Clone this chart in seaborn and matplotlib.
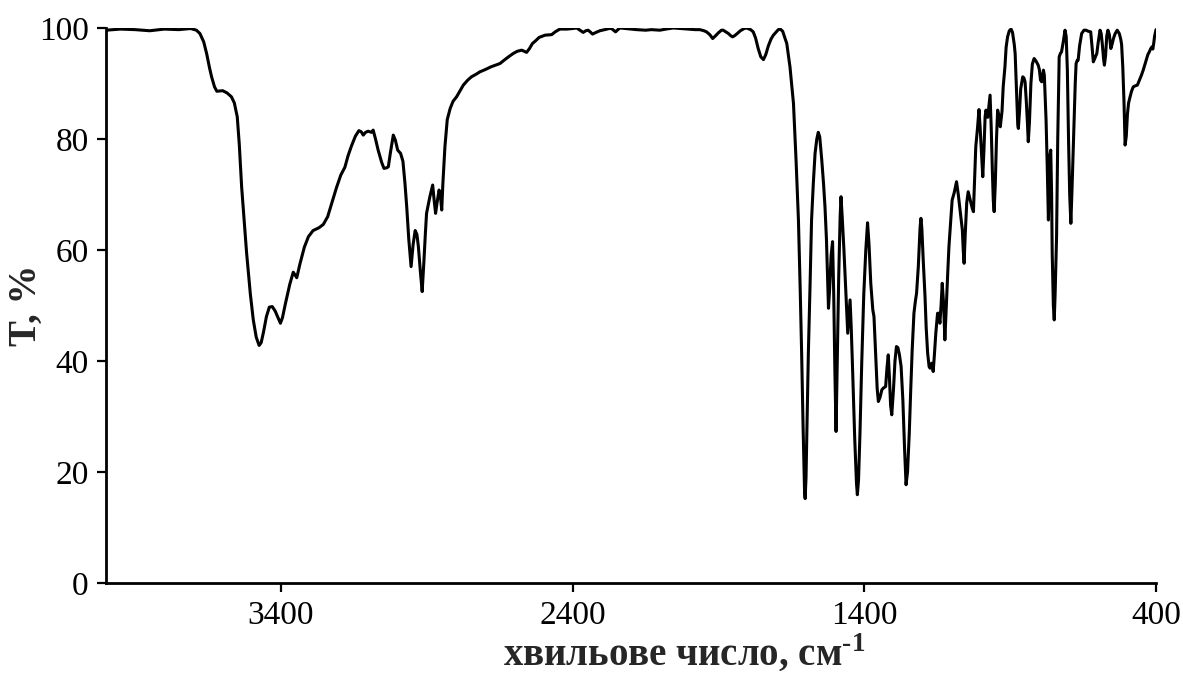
import matplotlib
matplotlib.use("Agg")
import matplotlib.pyplot as plt
import seaborn as sns
import pandas as pd

# IR transmission spectrum: wavenumber (cm-1) and transmittance (%)
wavenumber = [
    4000, 3950, 3900, 3850, 3800, 3750, 3710, 3690, 3678, 3665, 3655, 3645, 3638,
    3628, 3620, 3600, 3585, 3570, 3560, 3550, 3543, 3535, 3526, 3518, 3505, 3495,
    3485, 3475, 3468, 3460, 3450, 3440, 3430, 3420, 3410, 3402, 3395, 3385, 3370,
    3358, 3352, 3346, 3335, 3320, 3306, 3290, 3270, 3255, 3240, 3225, 3210, 3195,
    3181, 3170, 3158, 3145, 3133, 3125, 3118, 3110, 3101, 3090, 3084, 3076, 3067,
    3055, 3047, 3038, 3032, 3025, 3015, 3008, 3000, 2990, 2982, 2975, 2969, 2962,
    2954, 2947, 2940, 2934, 2929, 2922, 2916, 2910, 2905, 2901, 2890, 2880, 2875,
    2870, 2865, 2858, 2853, 2849, 2845, 2838, 2830, 2820, 2810, 2798, 2785, 2775,
    2760, 2747, 2730, 2718, 2700, 2680, 2665, 2649, 2635, 2620, 2604, 2590, 2575,
    2566, 2558, 2548, 2538, 2529, 2515, 2495, 2472, 2460, 2444, 2420, 2400, 2386,
    2375, 2364, 2355, 2347, 2340, 2332, 2320, 2307, 2290, 2275, 2267, 2260, 2253,
    2245, 2238, 2220, 2200, 2181, 2150, 2130, 2101, 2080, 2055, 2030, 2000, 1980,
    1964, 1950, 1941, 1930, 1920, 1910, 1901, 1890, 1884, 1875, 1866, 1858, 1852,
    1845, 1838, 1825, 1812, 1804, 1790, 1781, 1773, 1764, 1755, 1746, 1738, 1729,
    1720, 1712, 1700, 1695, 1688, 1680, 1666, 1655, 1643, 1634, 1626, 1620, 1615,
    1610, 1605, 1603, 1600, 1596, 1592, 1586, 1581, 1575, 1569, 1563, 1558, 1553,
    1546, 1540, 1535, 1530, 1523, 1519, 1514, 1509, 1505, 1501, 1497, 1493, 1488,
    1483, 1480, 1476, 1470, 1463, 1457, 1453, 1449, 1445, 1441, 1433, 1427, 1424,
    1420, 1415, 1409, 1402, 1395, 1389, 1384, 1378, 1371, 1367, 1362, 1356, 1352,
    1346, 1340, 1335, 1327, 1322, 1318, 1314, 1310, 1306, 1300, 1295, 1290, 1285,
    1280, 1274, 1268, 1262, 1257, 1252, 1246, 1241, 1236, 1230, 1225, 1221, 1215,
    1209, 1206, 1203, 1198, 1192, 1188, 1183, 1178, 1175, 1172, 1169, 1166, 1164,
    1160, 1155, 1149, 1145, 1141, 1137, 1133, 1128, 1124, 1119, 1114, 1110, 1105,
    1099, 1092, 1084, 1078, 1072, 1068, 1064, 1061, 1058, 1054, 1049, 1044, 1037,
    1030, 1026, 1022, 1018, 1012, 1007, 1003, 998, 994, 990, 986, 983, 977, 973,
    969, 965, 961, 958, 955, 951, 947, 943, 938, 934, 928, 924, 918, 914, 909, 903,
    897, 892, 886, 883, 878, 874, 872, 868, 864, 857, 853, 849, 845, 841, 838, 834,
    829, 824, 818, 811, 804, 800, 796, 792, 789, 786, 783, 780, 777, 773, 769, 767,
    764, 761, 758, 756, 752, 749, 746, 741, 737, 732, 728, 724, 718, 712, 708, 704,
    700, 696, 692, 688, 684, 681, 677, 674, 670, 667, 662, 655, 647, 640, 632, 624,
    620, 615, 610, 603, 598, 592, 588, 584, 580, 577, 573, 569, 565, 560, 555, 550,
    546, 540, 533, 526, 521, 518, 514, 510, 506, 502, 498, 494, 489, 484, 478, 470,
    464, 456, 450, 444, 435, 428, 423, 418, 414, 411, 408, 405, 400,
]

transmittance = [
    99.6, 99.8, 99.7, 99.5, 99.8, 99.7, 99.9, 99.6, 99.0, 97.5, 95.4, 92.8, 91.2,
    89.4, 88.6, 88.7, 88.3, 87.6, 86.5, 84.0, 79.0, 71.4, 65.0, 59.5, 52.0, 47.4,
    44.3, 42.8, 43.3, 45.2, 48.0, 49.7, 49.8, 49.0, 47.8, 46.8, 47.8, 50.3, 53.8,
    56.0, 55.5, 55.0, 57.5, 60.5, 62.4, 63.5, 64.0, 64.6, 66.0, 68.6, 71.2, 73.5,
    74.9, 77.0, 78.8, 80.5, 81.5, 81.3, 80.7, 81.2, 81.4, 81.2, 81.6, 80.0, 78.0,
    75.8, 74.7, 74.8, 75.0, 77.5, 80.7, 79.8, 78.0, 77.4, 76.0, 72.0, 67.8, 62.0,
    57.0, 61.0, 63.5, 62.8, 60.6, 56.0, 52.5, 58.0, 63.0, 66.6, 69.5, 71.7, 69.0,
    66.6, 68.5, 70.8, 69.5, 67.2, 72.0, 78.6, 83.5, 85.5, 86.8, 87.6, 88.8, 89.7,
    90.6, 91.2, 91.7, 92.1, 92.5, 93.0, 93.3, 93.6, 94.2, 94.8, 95.4, 95.8, 96.0,
    95.8, 95.6, 96.3, 97.2, 97.6, 98.3, 98.7, 98.8, 99.3, 99.8, 99.8, 99.9, 100.0,
    99.6, 99.2, 99.5, 99.6, 99.3, 98.9, 99.2, 99.5, 99.7, 99.9, 99.9, 99.6, 99.3,
    99.7, 100.0, 99.9, 99.8, 99.7, 99.6, 99.7, 99.6, 99.8, 100.0, 99.9, 99.8, 99.7,
    99.7, 99.5, 99.3, 98.8, 98.1, 98.6, 99.1, 99.6, 99.6, 99.3, 99.0, 98.6, 98.4,
    98.6, 98.9, 99.5, 99.9, 100.0, 99.7, 99.3, 98.2, 96.3, 94.8, 94.3, 95.2, 96.8,
    98.0, 98.7, 99.4, 99.7, 99.8, 99.4, 97.2, 93.0, 86.4, 76.0, 65.4, 53.0, 41.4,
    28.0, 16.5, 15.2, 19.0, 30.0, 41.4, 54.0, 65.4, 72.0, 77.4, 80.0, 81.2, 80.4,
    76.2, 72.0, 67.8, 62.0, 49.5, 53.0, 59.0, 61.5, 52.0, 38.0, 27.3, 40.0, 55.0,
    66.0, 69.6, 66.0, 60.0, 52.0, 45.0, 48.0, 51.0, 46.0, 39.6, 26.0, 18.0, 15.9,
    18.5, 27.0, 39.6, 52.0, 60.0, 64.9, 61.0, 54.0, 49.2, 48.0, 42.0, 35.0, 32.7,
    33.5, 34.8, 35.1, 35.4, 39.0, 41.1, 37.0, 32.0, 30.3, 35.0, 40.0, 42.6, 42.4,
    41.2, 39.0, 33.0, 24.0, 17.7, 20.0, 27.0, 34.8, 42.0, 48.6, 50.8, 52.2, 57.0,
    64.0, 65.7, 64.0, 58.0, 51.6, 46.0, 41.4, 39.0, 38.7, 39.0, 39.6, 38.8, 38.1,
    41.0, 45.0, 48.6, 48.6, 46.8, 50.0, 54.0, 50.0, 43.8, 50.0, 56.0, 60.6, 64.5,
    69.0, 70.3, 72.3, 70.0, 67.2, 65.5, 63.6, 60.0, 57.6, 63.0, 68.5, 70.5, 69.0,
    67.5, 66.9, 73.0, 78.6, 82.0, 85.3, 82.0, 77.0, 73.2, 78.0, 84.0, 85.2, 83.9,
    86.0, 87.9, 82.0, 74.0, 69.0, 66.9, 72.0, 80.0, 85.2, 84.0, 82.2, 85.0, 89.4,
    93.0, 96.5, 98.4, 99.5, 99.8, 99.2, 97.0, 95.4, 88.0, 82.5, 81.9, 85.0, 89.0,
    91.2, 91.0, 90.3, 87.0, 83.0, 79.5, 83.0, 90.0, 93.5, 94.5, 94.0, 93.3, 92.5,
    90.6, 90.3, 91.5, 92.4, 91.5, 87.5, 83.4, 75.0, 65.4, 70.0, 77.0, 78.0, 70.0,
    59.5, 50.0, 47.4, 52.0, 62.4, 80.0, 94.8, 95.4, 95.7, 97.5, 99.6, 98.5, 92.4,
    80.0, 70.0, 64.8, 71.0, 78.0, 83.4, 90.0, 93.6, 94.2, 94.2, 96.8, 99.0, 99.6,
    99.6, 99.4, 99.3, 97.0, 93.9, 94.5, 95.4, 97.5, 99.6, 99.0, 97.0, 94.5, 93.3,
    95.0, 98.5, 99.6, 98.8, 96.3, 97.2, 98.1, 99.0, 99.6, 99.0, 98.0, 97.0, 93.0,
    87.0, 78.9, 80.5, 84.5, 86.5, 87.6, 88.6, 89.4, 89.6, 89.7, 90.7, 91.5, 92.4,
    94.0, 95.2, 95.7, 96.3, 96.6, 96.2, 97.2, 98.5, 99.7,
]

x_ticks = [3400, 2400, 1400, 400]
y_ticks = [0, 20, 40, 60, 80, 100]

spectrum = pd.DataFrame({"wavenumber": wavenumber, "T": transmittance})

sns.set_style("ticks")
plt.rcParams["font.family"] = ["Liberation Serif", "DejaVu Serif"]
plt.rcParams["mathtext.fontset"] = "custom"
plt.rcParams["mathtext.rm"] = "Liberation Serif:bold"
plt.rcParams["mathtext.bf"] = "Liberation Serif:bold"

fig = plt.figure(figsize=(11.83, 6.84), dpi=100)
ax = fig.add_axes([0.0896, 0.1477, 0.8876, 0.8114])

sns.lineplot(data=spectrum, x="wavenumber", y="T", ax=ax, color="black",
             linewidth=2.2, estimator=None, sort=False)

ax.set_xlim(4000, 400)
ax.set_ylim(0, 100)
ax.set_xticks(x_ticks)
ax.set_yticks(y_ticks)
ax.tick_params(axis="both", direction="out", length=6.5, width=1.6,
               labelsize=24, colors="black", pad=6)
for side in ("left", "bottom"):
    ax.spines[side].set_linewidth(2.0)
    ax.spines[side].set_color("black")
sns.despine(ax=ax)

ax.set_xlabel(r"хвильове число, см$^{\text{-1}}$", fontsize=28,
              fontweight="bold")
ax.xaxis.set_label_coords(0.551, -0.089)
ax.set_ylabel("T, %", fontsize=28, fontweight="bold")
ax.yaxis.set_label_coords(-0.058, 0.5)

fig.savefig("out.png", dpi=100)
